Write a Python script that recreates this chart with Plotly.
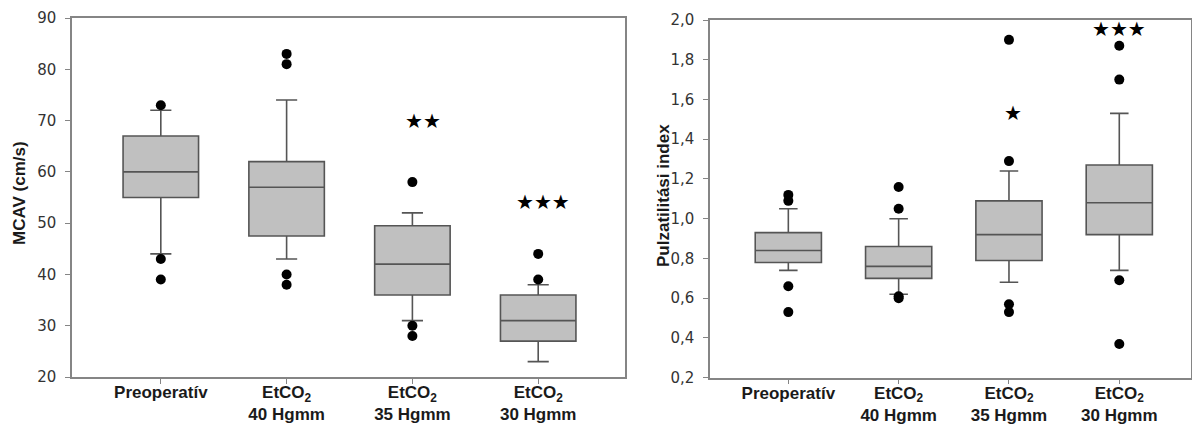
import plotly.graph_objects as go

# Category labels shared by both panels
categories = [
    "Preoperatív",
    "EtCO<sub>2</sub><br>40 Hgmm",
    "EtCO<sub>2</sub><br>35 Hgmm",
    "EtCO<sub>2</sub><br>30 Hgmm",
]
positions = [0, 1, 2, 3]

# Middle cerebral artery velocity, MCAV (cm/s)
mcav_q1 = [55, 47.5, 36, 27]
mcav_median = [60, 57, 42, 31]
mcav_q3 = [67, 62, 49.5, 36]
mcav_low = [44, 43, 31, 23]
mcav_high = [72, 74, 52, 38]
mcav_outliers = [[73, 43, 39], [83, 81, 40, 38], [58, 30, 28], [44, 39]]
mcav_stars = ["", "", "★★", "★★★"]
mcav_star_y = [None, None, 70, 54.1]

# Pulsatility index
pi_q1 = [0.78, 0.70, 0.79, 0.92]
pi_median = [0.84, 0.76, 0.92, 1.08]
pi_q3 = [0.93, 0.86, 1.09, 1.27]
pi_low = [0.74, 0.62, 0.68, 0.74]
pi_high = [1.05, 1.00, 1.24, 1.53]
pi_outliers = [[1.12, 1.09, 0.66, 0.53], [1.16, 1.05, 0.61, 0.60],
               [1.90, 1.29, 0.57, 0.53], [1.87, 1.70, 0.69, 0.37]]
pi_stars = ["", "", "★", "★★★"]
pi_star_y = [None, None, 1.534, 1.953]

mcav_ticks = [20, 30, 40, 50, 60, 70, 80, 90]
pi_ticks = [0.2, 0.4, 0.6, 0.8, 1.0, 1.2, 1.4, 1.6, 1.8, 2.0]
pi_ticktext = ["0,2", "0,4", "0,6", "0,8", "1,0", "1,2", "1,4", "1,6", "1,8", "2,0"]

BOX_FILL = "#c0c0c0"
BOX_LINE = "#555555"
AXIS_LINE = "#858585"
TICK_FONT = dict(family="DejaVu Sans", size=15, color="#333333")
CAT_FONT = dict(family="Liberation Sans", size=17, color="#1a1a1a")
TITLE_FONT = dict(family="Liberation Sans", size=17, color="#1a1a1a")
STAR_FONT = dict(family="DejaVu Sans", size=20, color="#000000")

fig = go.Figure()


def add_panel(xa, ya, q1, med, q3, low, high, outliers):
    fig.add_trace(go.Box(
        x=positions, q1=q1, median=med, q3=q3,
        lowerfence=low, upperfence=high,
        width=0.6, whiskerwidth=0.28,
        fillcolor=BOX_FILL,
        line=dict(color=BOX_LINE, width=1.6),
        boxpoints=False, hoverinfo="skip",
        xaxis=xa, yaxis=ya, showlegend=False,
    ))
    ox, oy = [], []
    for p, vals in zip(positions, outliers):
        ox += [p] * len(vals)
        oy += vals
    fig.add_trace(go.Scatter(
        x=ox, y=oy, mode="markers",
        marker=dict(color="black", size=10),
        xaxis=xa, yaxis=ya, showlegend=False, hoverinfo="skip",
    ))


add_panel("x", "y", mcav_q1, mcav_median, mcav_q3, mcav_low, mcav_high, mcav_outliers)
add_panel("x2", "y2", pi_q1, pi_median, pi_q3, pi_low, pi_high, pi_outliers)

annotations = []
star_shift = {("x", 2): 11, ("x", 3): 5, ("x2", 2): 4, ("x2", 3): 0}
for xr, yr, stars, sy in [("x", "y", mcav_stars, mcav_star_y),
                          ("x2", "y2", pi_stars, pi_star_y)]:
    for p, s, y in zip(positions, stars, sy):
        if s:
            annotations.append(dict(
                x=p, y=y, xref=xr, yref=yr, text=s, showarrow=False,
                font=STAR_FONT, xshift=star_shift[(xr, p)],
                xanchor="center", yanchor="middle",
            ))

annotations += [
    dict(x=19 / 1192, y=1 - 193 / 425, xref="paper", yref="paper",
         text="<b>MCAV (cm/s)</b>", textangle=-90, showarrow=False,
         font=TITLE_FONT, xanchor="center", yanchor="middle"),
    dict(x=663 / 1192, y=1 - 196 / 425, xref="paper", yref="paper",
         text="<b>Pulzatilitási index</b>", textangle=-90, showarrow=False,
         font=TITLE_FONT, xanchor="center", yanchor="middle"),
]

xaxis_common = dict(
    tickmode="array", tickvals=positions,
    ticktext=[f"<b>{c}</b>" for c in categories],
    tickfont=CAT_FONT, ticks="outside", ticklen=5, tickcolor=AXIS_LINE,
    showline=True, linecolor=AXIS_LINE, linewidth=1.5, mirror=True,
    showgrid=False, zeroline=False, fixedrange=True, automargin=False,
    ticklabelstandoff=-6,
)
yaxis_common = dict(
    ticks="outside", ticklen=5, tickcolor=AXIS_LINE,
    showline=True, linecolor=AXIS_LINE, linewidth=1.5, mirror=True,
    showgrid=False, zeroline=False, tickfont=TICK_FONT,
    ticklabelstandoff=6, automargin=False,
)

fig.update_layout(
    width=1192, height=425,
    margin=dict(l=0, r=0, t=0, b=0, autoexpand=False),
    paper_bgcolor="white", plot_bgcolor="white",
    xaxis=dict(domain=[72 / 1192, 625 / 1192], range=[-0.706, 3.69],
               anchor="y", **xaxis_common),
    yaxis=dict(domain=[48 / 425, 407 / 425], range=[20, 90],
               tickvals=mcav_ticks, anchor="x", **yaxis_common),
    xaxis2=dict(domain=[710 / 1192, 1191 / 1192], range=[-0.71, 3.65],
                anchor="y2", **xaxis_common),
    yaxis2=dict(domain=[47.3 / 425, 405 / 425], range=[0.2, 2.0],
                tickvals=pi_ticks, ticktext=pi_ticktext, anchor="x2",
                **yaxis_common),
    annotations=annotations,
)

fig.write_html("out.html")
